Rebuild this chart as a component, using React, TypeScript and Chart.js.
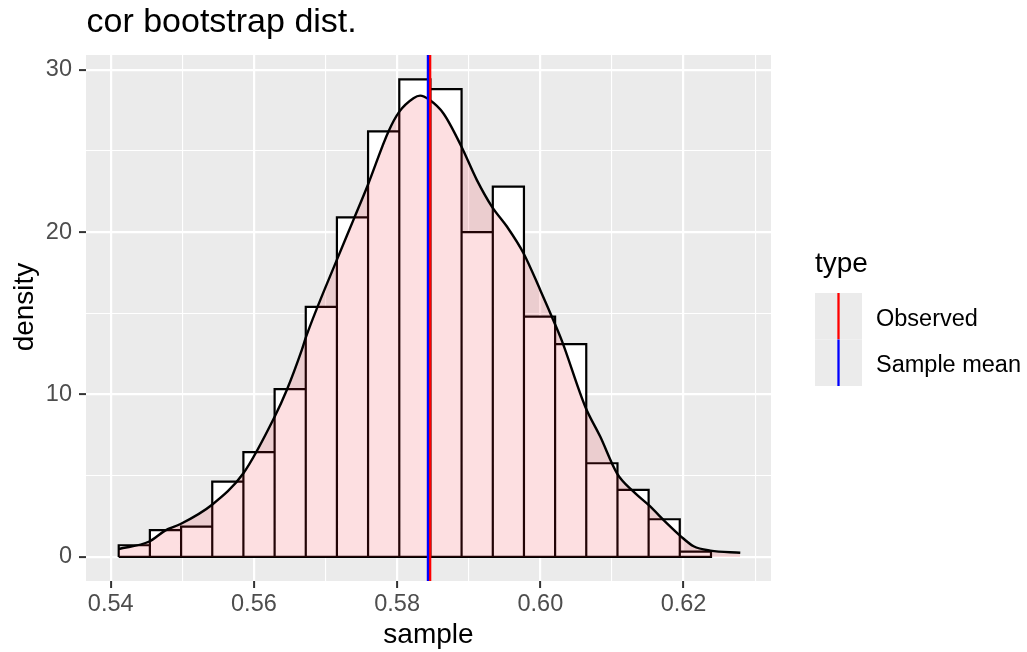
import React, { useEffect, useRef } from "react";
import { Chart, registerables } from "chart.js";

Chart.register(...registerables);

// ---- data ----
const binEdges = [
  0.54112, 0.54547, 0.54983, 0.55418, 0.55853, 0.56289, 0.56724, 0.57159, 0.57594, 0.5803,
  0.58465, 0.589, 0.59336, 0.59771, 0.60206, 0.60641, 0.61077, 0.61512, 0.61947, 0.62383,
];
const binDensity = [
  0.72, 1.65, 1.87, 4.64, 6.45, 10.33, 15.4, 20.9, 26.2, 29.4, 28.8, 20.0, 22.8, 14.8, 13.1, 5.77,
  4.13, 2.32, 0.33,
];
const densityX = [
  0.54112, 0.54539, 0.54759, 0.54968, 0.55411, 0.55853, 0.56286, 0.56459, 0.56669, 0.56724,
  0.57158, 0.5739, 0.57591, 0.57879, 0.58028, 0.58228, 0.58321, 0.58451, 0.58647, 0.58894,
  0.59114, 0.59323, 0.59533, 0.59765, 0.59998, 0.60208, 0.60301, 0.60627, 0.60836, 0.6107,
  0.61301, 0.61511, 0.61768, 0.61954, 0.6214, 0.62373, 0.62792,
];
const densityY = [
  0.49, 0.95, 1.62, 2.01, 3.2, 5.15, 8.6, 10.28, 12.75, 13.5, 18.29, 20.75, 22.9, 26.19, 27.4,
  28.24, 28.4, 28.14, 27.3, 25.3, 23.2, 21.57, 20.34, 18.7, 16.44, 14.3, 13.3, 9.25, 7.41, 5.15,
  4.02, 3.2, 2.07, 1.3, 0.66, 0.39, 0.26,
];
const observedValue = 0.58461;
const sampleMean = 0.5843;
const xMajorTicks = [0.54, 0.56, 0.58, 0.6, 0.62];
const xMinorTicks = [0.55, 0.57, 0.59, 0.61, 0.63];
const yMajorTicks = [0, 10, 20, 30];
const yMinorTicks = [5, 15, 25];
const xLimits = [0.53655, 0.63221];
const yLimits = [-1.48, 30.9];
const titleText = "cor bootstrap dist.";
const xTitle = "sample";
const yTitle = "density";
const legendTitle = "type";
const legendLabels = ["Observed", "Sample mean"];
const legendColors = ["#FF0000", "#0000FF"];

const FONT = "'Liberation Sans', Arial, Helvetica, sans-serif";
const PANEL_BG = "#EBEBEB";
const DENSITY_FILL = "rgba(240, 30, 40, 0.14)";

const isIn = (arr: number[], v: number) => arr.some((a) => Math.abs(a - v) < 1e-9);

export default function App() {
  const canvasRef = useRef<HTMLCanvasElement | null>(null);

  useEffect(() => {
    const canvas = canvasRef.current;
    if (!canvas) return;

    const barData = binDensity.map((h, i) => ({ x: (binEdges[i] + binEdges[i + 1]) / 2, y: h }));
    const outline: { x: number; y: number }[] = [];
    binDensity.forEach((h, i) => {
      const l = binEdges[i];
      const r = binEdges[i + 1];
      if (i === 0) outline.push({ x: l, y: 0 });
      outline.push({ x: l, y: h });
      outline.push({ x: r, y: h });
      outline.push({ x: r, y: 0 });
    });
    outline.push({ x: binEdges[0], y: 0 });
    const densityData = densityX.map((x, i) => ({ x, y: densityY[i] }));

    const decor = {
      id: "decor",
      beforeDraw(chart: any) {
        const { ctx, chartArea: a } = chart;
        ctx.save();
        ctx.fillStyle = "#FFFFFF";
        ctx.fillRect(0, 0, chart.width, chart.height);
        ctx.fillStyle = PANEL_BG;
        ctx.fillRect(a.left, a.top, a.right - a.left, a.bottom - a.top);
        ctx.restore();
      },
      afterDatasetsDraw(chart: any) {
        const { ctx, chartArea: a } = chart;
        const xs = chart.scales.x;
        ctx.save();
        ctx.beginPath();
        ctx.rect(a.left, a.top, a.right - a.left, a.bottom - a.top);
        ctx.clip();
        ctx.lineWidth = 2.3;
        const drawV = (v: number, c: string) => {
          const px = xs.getPixelForValue(v);
          ctx.strokeStyle = c;
          ctx.beginPath();
          ctx.moveTo(px, a.top);
          ctx.lineTo(px, a.bottom);
          ctx.stroke();
        };
        drawV(observedValue, legendColors[0]);
        drawV(sampleMean, legendColors[1]);
        ctx.restore();
      },
      afterDraw(chart: any) {
        const { ctx, chartArea: a } = chart;
        ctx.save();
        ctx.fillStyle = "#000000";
        ctx.textBaseline = "alphabetic";
        // title
        ctx.font = `34px ${FONT}`;
        ctx.textAlign = "left";
        ctx.fillText(titleText, a.left + 0.5, 32);
        // x title
        ctx.font = `28px ${FONT}`;
        ctx.textAlign = "center";
        ctx.fillText(xTitle, (a.left + a.right) / 2, 643);
        // y title
        ctx.save();
        ctx.translate(33, 307);
        ctx.rotate(-Math.PI / 2);
        ctx.fillText(yTitle, 0, 0);
        ctx.restore();
        // legend
        ctx.textAlign = "left";
        ctx.font = `28px ${FONT}`;
        ctx.fillText(legendTitle, 815, 272);
        const kx = 815, kw = 47, ky = 293, kh = 46.5;
        legendLabels.forEach((lab, i) => {
          const y0 = ky + i * kh;
          ctx.fillStyle = PANEL_BG;
          ctx.fillRect(kx, y0, kw, kh);
          ctx.strokeStyle = legendColors[i];
          ctx.lineWidth = 2.3;
          ctx.beginPath();
          ctx.moveTo(kx + kw / 2, y0);
          ctx.lineTo(kx + kw / 2, y0 + kh);
          ctx.stroke();
          ctx.fillStyle = "#000000";
          ctx.font = `23.5px ${FONT}`;
          ctx.fillText(lab, 876, y0 + 32.8);
        });
        ctx.restore();
      },
    };

    const chart = new Chart(canvas, {
      type: "line",
      data: {
        datasets: [
          {
            type: "bar",
            data: barData as any,
            backgroundColor: "#FFFFFF",
            borderWidth: 0,
            barPercentage: 1,
            categoryPercentage: 1,
            order: 4,
          } as any,
          {
            type: "line",
            data: outline as any,
            borderColor: "#000000",
            borderWidth: 2.2,
            pointRadius: 0,
            fill: false,
            tension: 0,
            order: 3,
          },
          {
            type: "line",
            data: densityData as any,
            borderColor: "#000000",
            borderWidth: 2.4,
            backgroundColor: DENSITY_FILL,
            pointRadius: 0,
            fill: "origin",
            cubicInterpolationMode: "monotone",
            order: 2,
          },
        ],
      },
      options: {
        animation: false,
        responsive: false,
        events: [],
        layout: { padding: { top: 55, right: 256, bottom: 0, left: 0 } },
        plugins: {
          legend: { display: false },
          tooltip: { enabled: false },
          title: { display: false },
        },
        scales: {
          x: {
            type: "linear",
            min: xLimits[0],
            max: xLimits[1],
            offset: false,
            afterFit: (s: any) => {
              s.height = 71;
            },
            afterBuildTicks: (s: any) => {
              s.ticks = [...xMajorTicks, ...xMinorTicks]
                .filter((v) => v >= xLimits[0] && v <= xLimits[1])
                .sort((p, q) => p - q)
                .map((v) => ({ value: v }));
            },
            ticks: {
              autoSkip: false,
              maxRotation: 0,
              minRotation: 0,
              padding: 2,
              color: "#4D4D4D",
              font: { family: FONT, size: 23.5 },
              callback: (v: any) => (isIn(xMajorTicks, Number(v)) ? Number(v).toFixed(2) : ""),
            },
            grid: {
              offset: false,
              color: "#FFFFFF",
              lineWidth: (c: any) => (isIn(xMajorTicks, c.tick?.value) ? 2.2 : 1.1),
              tickLength: 7,
              tickWidth: 2,
              tickColor: (c: any) => (isIn(xMajorTicks, c.tick?.value) ? "#333333" : "rgba(0,0,0,0)"),
            },
            border: { display: false },
          },
          y: {
            type: "linear",
            min: yLimits[0],
            max: yLimits[1],
            afterFit: (s: any) => {
              s.width = 86;
            },
            afterBuildTicks: (s: any) => {
              s.ticks = [...yMajorTicks, ...yMinorTicks]
                .sort((p, q) => p - q)
                .map((v) => ({ value: v }));
            },
            ticks: {
              autoSkip: false,
              padding: 7,
              color: "#4D4D4D",
              font: { family: FONT, size: 23.5 },
              callback: (v: any) => (isIn(yMajorTicks, Number(v)) ? String(v) : ""),
            },
            grid: {
              color: "#FFFFFF",
              lineWidth: (c: any) => (isIn(yMajorTicks, c.tick?.value) ? 2.2 : 1.1),
              tickLength: 7,
              tickWidth: 2,
              tickColor: (c: any) => (isIn(yMajorTicks, c.tick?.value) ? "#333333" : "rgba(0,0,0,0)"),
            },
            border: { display: false },
          },
        },
      } as any,
      plugins: [decor],
    });

    return () => chart.destroy();
  }, []);

  return (
    <div style={{ position: "fixed", left: 0, top: 0, width: 1027, height: 652, background: "#FFFFFF" }}>
      <canvas ref={canvasRef} width={1027} height={652} style={{ display: "block" }} />
    </div>
  );
}
